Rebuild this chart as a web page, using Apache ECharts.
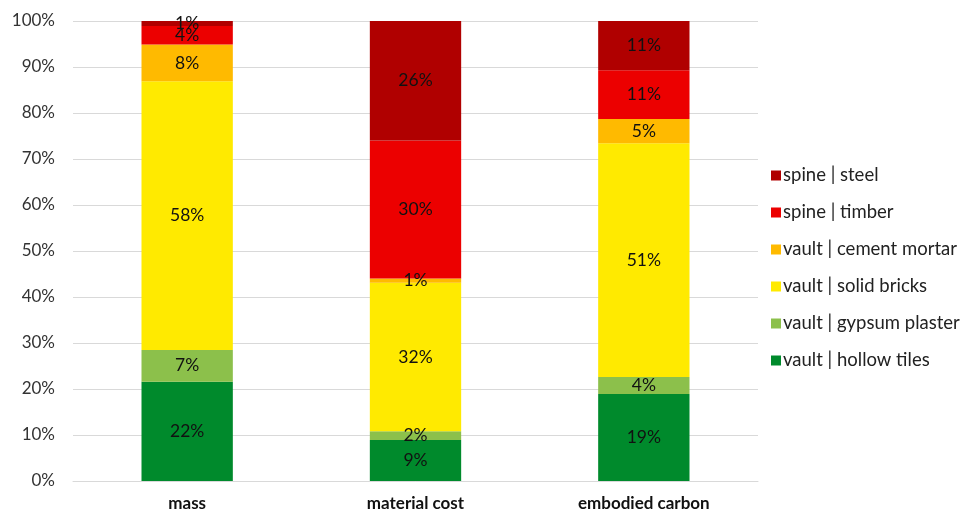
<!DOCTYPE html>
<html>
<head>
<meta charset="utf-8">
<script src="https://cdn.jsdelivr.net/npm/echarts@6/dist/echarts.min.js"></script>
<style>
  html, body { margin: 0; padding: 0; background: #fff; }
  #chart { width: 964px; height: 515px; }
</style>
</head>
<body>
<div id="chart"></div>
<script>
// Share of each component (%) per indicator
const categories = ['mass', 'material cost', 'embodied carbon'];
const hollowTiles   = [21.6, 8.9, 18.9];
const gypsumPlaster = [6.9, 1.9, 3.7];
const solidBricks   = [58.4, 32.3, 50.8];
const cementMortar  = [8.0, 0.9, 5.3];
const spineTimber   = [4.0, 30.0, 10.6];
const spineSteel    = [1.1, 26.0, 10.7];
const yTicks = [0, 10, 20, 30, 40, 50, 60, 70, 80, 90, 100];

const seriesDefs = [
  { name: 'vault | hollow tiles',   data: hollowTiles,   color: '#008A2C' },
  { name: 'vault | gypsum plaster', data: gypsumPlaster, color: '#8CC04B' },
  { name: 'vault | solid bricks',   data: solidBricks,   color: '#FFEA00' },
  { name: 'vault | cement mortar',  data: cementMortar,  color: '#FFBA00' },
  { name: 'spine | timber',         data: spineTimber,   color: '#EC0000' },
  { name: 'spine | steel',          data: spineSteel,    color: '#B00000' }
];

const font = 'Lato, "Open Sans", sans-serif';

const chart = echarts.init(document.getElementById('chart'));
chart.setOption({
  animation: false,
  textStyle: { fontFamily: font },
  grid: { left: 73, right: 206, top: 21, bottom: 34 },
  legend: {
    orient: 'vertical',
    left: 766,
    top: 161,
    itemWidth: 10,
    itemHeight: 10,
    itemGap: 18,
    icon: 'rect',
    data: seriesDefs.map(s => s.name).reverse(),
    textStyle: { fontSize: 18.5, color: '#222', fontFamily: font, padding: [0, 0, 0, -3] }
  },
  xAxis: {
    type: 'category',
    data: categories,
    axisTick: { show: false },
    axisLine: { lineStyle: { color: '#d9d9d9' } },
    axisLabel: { fontSize: 17, fontWeight: 'bold', color: '#111', margin: 14, fontFamily: font }
  },
  yAxis: {
    type: 'value',
    min: yTicks[0],
    max: yTicks[yTicks.length - 1],
    interval: 10,
    axisLabel: { formatter: v => v + '%', fontSize: 17, color: '#333', margin: 18, fontFamily: font },
    splitLine: { lineStyle: { color: '#d9d9d9' } },
    axisLine: { show: false },
    axisTick: { show: false }
  },
  series: seriesDefs.map(s => ({
    name: s.name,
    type: 'bar',
    stack: 'total',
    barWidth: '40%',
    data: s.data,
    itemStyle: { color: s.color },
    label: {
      show: true,
      position: 'inside',
      formatter: p => Math.round(p.value) + '%',
      fontSize: 17.5,
      color: '#111',
      fontFamily: font
    }
  }))
});
</script>
</body>
</html>
